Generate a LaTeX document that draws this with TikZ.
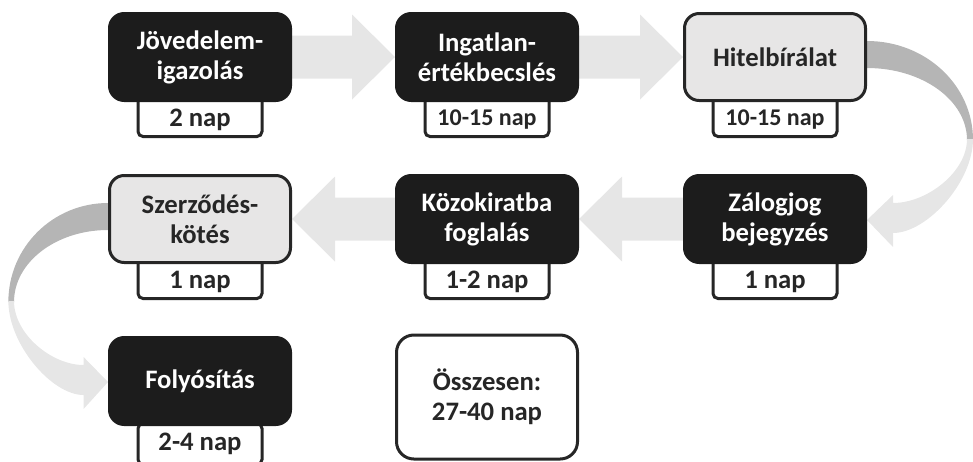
\documentclass[tikz,border=0pt]{standalone}
\usepackage{fontspec}
\setmainfont{Carlito}
\usetikzlibrary{calc}
\definecolor{boxblack}{HTML}{1C1C1C}
\definecolor{boxgray}{HTML}{E7E6E6}
\definecolor{edgecol}{HTML}{262626}
\definecolor{arrowlight}{HTML}{E6E6E6}
\definecolor{arrowdark}{HTML}{B5B5B5}
\pgfdeclarelayer{arrowlayer}
\pgfdeclarelayer{taglayer}
\pgfsetlayers{arrowlayer,taglayer,main}
\newcommand\blockarrow[4]{% start anchor, tip anchor, head back offset, start offset
  \fill[arrowlight] ($(#1)+(#4,-21.5)$) -- ($(#2)+(#3,-21.5)$) -- ($(#2)+(#3,-42.5)$) -- (#2)
    -- ($(#2)+(#3,42.5)$) -- ($(#2)+(#3,21.5)$) -- ($(#1)+(#4,21.5)$) -- cycle;}
\newcommand\ribbonarrow{%
  \fill[arrowdark] (-12,-16) -- (0,-16) .. controls (58.5,-16) and (106,28) .. (106,83)
    -- (100,83) .. controls (100,43.2) and (55.2,11) .. (0,11) -- (-12,11) -- cycle;
  \fill[arrowlight] (106,82) .. controls (106,125) and (60,176) .. (26,176) -- (26,190) -- (0,163)
    -- (26,138) -- (26,146) .. controls (60,146) and (100,115) .. (100,82) -- cycle;}
\begin{document}
\begin{tikzpicture}[x=0.75pt,y=-0.75pt,
  box/.style={rounded corners=11pt, minimum width=135.75pt, minimum height=65.25pt,
    line width=2.25pt, font=\fontsize{20}{22.5}\selectfont\bfseries, align=center, inner sep=0pt},
  darkbox/.style={box, fill=boxblack, draw=boxblack, text=white},
  lightbox/.style={box, fill=boxgray, draw=edgecol, text=edgecol},
  tagbox/.style={draw=edgecol, fill=white, line width=2.25pt, rounded corners=3.75pt,
    minimum width=93pt, minimum height=30.75pt, inner sep=0pt},
  tagtext/.style={text=edgecol, font=\fontsize{20}{22}\selectfont\bfseries, inner sep=0pt},
  tagsmall/.style={tagtext, font=\fontsize{18}{20}\selectfont\bfseries}]
\useasboundingbox (0,0) rectangle (973,461);
% boxes
\node[darkbox]  (b1) at (200,57)  {Jövedelem-\\igazolás};
\node[darkbox]  (b2) at (487,57)  {Ingatlan-\\értékbecslés};
\node[lightbox] (b3) at (775,57)  {Hitelbírálat};
\node[darkbox]  (b6) at (775,219) {Zálogjog\\bejegyzés};
\node[darkbox]  (b5) at (487,219) {Közokiratba\\foglalás};
\node[lightbox] (b4) at (200,219) {Szerződés-\\kötés};
\node[darkbox]  (b7) at (200,381) {Folyósítás};
\node[box, fill=white, draw=edgecol, text=edgecol, minimum height=93pt, rounded corners=13pt]
  (tot) at (487,397) {Összesen:\\27-40 nap};
% tags
\begin{pgfonlayer}{taglayer}
\node[tagbox] (t1) at (200,116) {};
\node[tagbox] (t2) at (487,116) {};
\node[tagbox] (t3) at (775,116) {};
\node[tagbox] (t6) at (775,278) {};
\node[tagbox] (t5) at (487,278) {};
\node[tagbox] (t4) at (200,278) {};
\node[tagbox] (t7) at (200,444) {};
\end{pgfonlayer}
\node[tagtext]  (l1) at (200,120) {2 nap};
\node[tagsmall] (l2) at (487,120) {10-15 nap};
\node[tagsmall] (l3) at (775,120) {10-15 nap};
\node[tagtext]  (l6) at (775,282) {1 nap};
\node[tagtext]  (l5) at (487,282) {1-2 nap};
\node[tagtext]  (l4) at (200,282) {1 nap};
\node[tagtext]  (l7) at (200,444) {2-4 nap};
% arrows
\begin{pgfonlayer}{arrowlayer}
\blockarrow{b1.east}{b2.west}{-43}{-5}
\blockarrow{b2.east}{b3.west}{-43}{-5}
\blockarrow{b6.west}{b5.east}{43}{5}
\blockarrow{b5.west}{b4.east}{43}{5}
\begin{scope}[shift={(b3.east)}]
\ribbonarrow
\end{scope}
\begin{scope}[shift={(b4.west)}, xscale=-0.94]
\ribbonarrow
\end{scope}
\end{pgfonlayer}
\end{tikzpicture}
\end{document}
